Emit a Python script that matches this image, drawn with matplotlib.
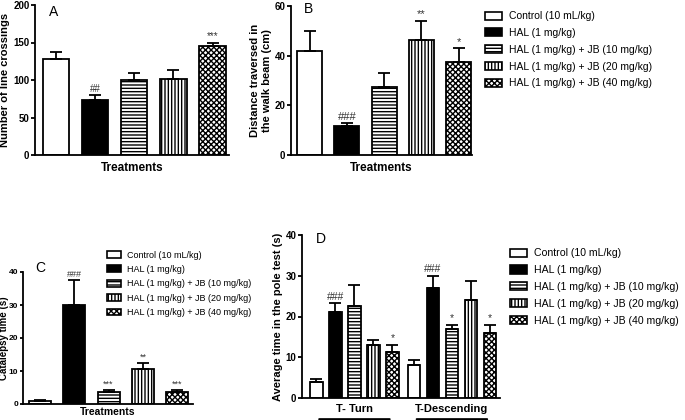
import matplotlib
matplotlib.use("Agg")
import matplotlib.pyplot as plt
from matplotlib.patches import Patch
import numpy as np

plt.rcParams['font.family'] = ['Liberation Sans', 'DejaVu Sans']

groups = ["Control (10 mL/kg)", "HAL (1 mg/kg)", "HAL (1 mg/kg) + JB (10 mg/kg)",
          "HAL (1 mg/kg) + JB (20 mg/kg)", "HAL (1 mg/kg) + JB (40 mg/kg)"]

# panel A - line crossings
a_mean = [128, 74, 100, 101, 146]
a_err = [9, 6, 9, 12, 4]
a_sig = ["", "##", "", "", "***"]

# panel B - walk beam
b_mean = [42, 11.5, 27.5, 46.5, 37.5]
b_err = [8, 1.2, 5.5, 7.5, 5.5]
b_sig = ["", "###", "", "**", "*"]

# panel C - catalepsy
c_mean = [1.0, 30, 3.5, 10.5, 3.7]
c_err = [0.3, 7.5, 0.6, 2.0, 0.6]
c_sig = ["", "###", "***", "**", "***"]

# panel D - pole test
d_groups = ["T- Turn", "T-Descending"]
d_turn = [4, 21, 22.5, 13, 11.3]
d_turn_err = [0.6, 2.3, 5.2, 1.3, 1.8]
d_turn_sig = ["", "###", "", "", "*"]
d_desc = [8, 27, 17, 24, 16]
d_desc_err = [1.3, 3.0, 1.0, 4.7, 2.0]
d_desc_sig = ["", "###", "*", "", "*"]

faces = ["white", "black", "white", "white", "white"]
hatches = [None, None, "-----", "|||||", "xxxxxx"]

plt.rcParams['hatch.linewidth'] = 1.0
W, H = 685, 420
fig = plt.figure(figsize=(W / 100, H / 100), dpi=100)


def px_axes(left, right, top, bottom):
    return fig.add_axes([left / W, (H - bottom) / H, (right - left) / W, (bottom - top) / H])


def bars(ax, xs, mean, err, sig, width, sigsize=7):
    for i in range(len(mean)):
        ax.bar(xs[i], mean[i], width, color=faces[i], edgecolor="black",
               hatch=hatches[i], linewidth=1.3, zorder=2)
        ax.errorbar(xs[i], mean[i], yerr=[[0], [err[i]]], fmt="none", ecolor="black",
                    elinewidth=1.3, capsize=4, capthick=1.3, zorder=3)
        if sig[i]:
            ax.annotate(sig[i], (xs[i], mean[i] + err[i]), xytext=(0, 1),
                        textcoords="offset points", ha="center", va="bottom",
                        fontsize=sigsize, color="#333333")


def style(ax, ymax, step, letter, ylabel, letter_y, tick_fs=7, ylab_fs=8):
    ax.set_ylim(0, ymax)
    ax.set_yticks(np.arange(0, ymax + 1, step))
    for s in ["top", "right"]:
        ax.spines[s].set_visible(False)
    for s in ["left", "bottom"]:
        ax.spines[s].set_linewidth(1.3)
    ax.tick_params(axis="y", labelsize=tick_fs, width=1.3, length=3, pad=1)
    for lab in ax.get_yticklabels():
        lab.set_fontweight("bold")
    ax.set_xticks([])
    ax.text(0.07, letter_y, letter, transform=ax.transAxes, fontsize=10, va="top")
    ax.set_ylabel(ylabel, fontsize=ylab_fs, fontweight="bold", labelpad=2)


x5 = np.arange(5)

# A
axA = px_axes(35, 229, 5, 155)
bars(axA, x5, a_mean, a_err, a_sig, 0.67)
axA.set_xlim(-0.54, 4.42)
style(axA, 200, 50, "A", "Number of line crossings", 1.0)
axA.set_xlabel("Treatments", fontsize=8.5, fontweight="bold", labelpad=5)

# B
axB = px_axes(291, 472, 6, 155)
bars(axB, x5, b_mean, b_err, b_sig, 0.67, sigsize=8)
axB.set_xlim(-0.5, 4.36)
style(axB, 60, 20, "B", "Distance traversed in\nthe walk beam (cm)", 1.03)
axB.set_xlabel("Treatments", fontsize=8.5, fontweight="bold", labelpad=5)

# C
axC = px_axes(23, 193, 272, 404)
bars(axC, x5, c_mean, c_err, c_sig, 0.64, sigsize=6.5)
axC.set_xlim(-0.49, 4.46)
style(axC, 40, 10, "C", "Catalepsy time (s)", 1.08, tick_fs=6, ylab_fs=7)
axC.tick_params(axis="y", length=2.5)
axC.yaxis.set_label_coords(-0.085, 0.5)
axC.set_xlabel("Treatments", fontsize=7.5, fontweight="bold", labelpad=2)

# D
axD = px_axes(302, 500, 235, 398)
off = 5.13
bars(axD, x5, d_turn, d_turn_err, d_turn_sig, 0.67, sigsize=7.5)
bars(axD, x5 + off, d_desc, d_desc_err, d_desc_sig, 0.67, sigsize=7.5)
axD.set_xlim(-0.76, 9.66)
style(axD, 40, 10, "D", "Average time in the pole test (s)", 1.02)
axD.set_xticks([2, 2 + off])
axD.set_xticklabels(d_groups, fontsize=8, fontweight="bold")
axD.tick_params(axis="x", length=0, pad=4)
for cx in [2, 2 + off]:
    axD.annotate("", xy=(cx - 2.0, -0.13), xycoords=("data", "axes fraction"),
                 xytext=(cx + 2.0, -0.13), textcoords=("data", "axes fraction"),
                 arrowprops=dict(arrowstyle="-", lw=1.5, color="black"),
                 annotation_clip=False)

handles = [Patch(facecolor=faces[i], edgecolor="black", hatch=hatches[i], linewidth=1.2)
           for i in range(5)]

fig.legend(handles, groups, loc="upper left", bbox_to_anchor=(480 / W, 1 - 6 / H),
           frameon=False, fontsize=7.5, handlelength=1.6, handleheight=0.8,
           labelspacing=0.65, handletextpad=0.7, borderpad=0)
fig.legend(handles, groups, loc="upper left", bbox_to_anchor=(102 / W, 1 - 246 / H),
           frameon=False, fontsize=6.5, handlelength=1.6, handleheight=0.8,
           labelspacing=0.6, handletextpad=0.7, borderpad=0)
fig.legend(handles, groups, loc="upper left", bbox_to_anchor=(505 / W, 1 - 243 / H),
           frameon=False, fontsize=7.6, handlelength=1.6, handleheight=0.8,
           labelspacing=0.65, handletextpad=0.6, borderpad=0)

fig.savefig("out.png", dpi=100)
